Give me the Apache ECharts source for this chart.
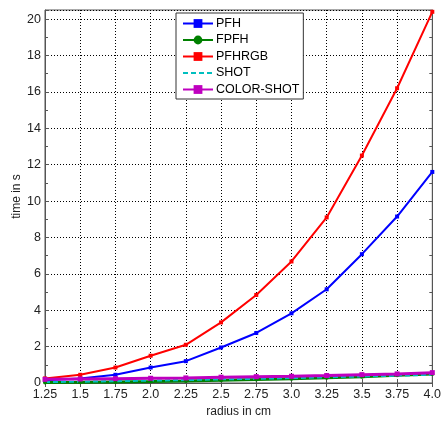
<!DOCTYPE html>
<html>
<head>
<meta charset="utf-8">
<script src="https://cdn.jsdelivr.net/npm/echarts@6/dist/echarts.min.js"></script>
<style>
html, body { margin: 0; padding: 0; background: #fff; }
#container { width: 444px; height: 423px; }
</style>
</head>
<body>
<div id="container"></div>
<script>
var radius = ['1.25', '1.5', '1.75', '2.0', '2.25', '2.5', '2.75', '3.0', '3.25', '3.5', '3.75', '4.0'];
var pfh = [0.15, 0.25, 0.45, 0.85, 1.2, 1.95, 2.75, 3.83, 5.15, 7.08, 9.15, 11.6];
var fpfh = [0.03, 0.04, 0.06, 0.08, 0.11, 0.15, 0.19, 0.24, 0.29, 0.35, 0.42, 0.5];
var pfhrgb = [0.25, 0.45, 0.85, 1.5, 2.1, 3.33, 4.84, 6.68, 9.1, 12.5, 16.2, 20.4];
var shot = [0.05, 0.07, 0.1, 0.13, 0.16, 0.2, 0.23, 0.27, 0.31, 0.36, 0.4, 0.45];
var colorShot = [0.2, 0.22, 0.24, 0.26, 0.28, 0.32, 0.35, 0.37, 0.41, 0.46, 0.5, 0.57];

var myChart = echarts.init(document.getElementById('container'));

var font = 'Liberation Sans, Arial, sans-serif';

function line(name, data, color, symbol, width, type, size) {
    return {
        name: name,
        type: 'line',
        data: data,
        symbol: symbol,
        symbolSize: size,
        showSymbol: true,
        itemStyle: { color: color },
        lineStyle: { color: color, width: width, type: type },
        animation: false
    };
}

option = {
    grid: {
        left: 45, right: 8, top: 10, bottom: 32,
        show: true, borderColor: '#555', borderWidth: 1
    },
    legend: {
        data: ['PFH', 'FPFH', 'PFHRGB', 'SHOT', 'COLOR-SHOT'],
        orient: 'vertical',
        left: 176, top: 13,
        padding: [4, 4, 3, 6],
        itemGap: 3.5,
        itemWidth: 30,
        itemHeight: 11,
        backgroundColor: '#fff',
        borderColor: '#333',
        borderWidth: 1,
        textStyle: { fontFamily: font, fontSize: 12.5, color: '#000', padding: [0, 0, 0, -2] }
    },
    xAxis: [{
        type: 'category',
        data: radius,
        boundaryGap: false,
        name: 'radius in cm',
        nameLocation: 'middle',
        nameGap: 23,
        nameTextStyle: { fontFamily: font, fontSize: 12, color: '#222' },
        axisLine: { lineStyle: { color: '#555' } },
        axisTick: { inside: true, length: 4, lineStyle: { color: '#555' } },
        axisLabel: { fontFamily: font, fontSize: 12.5, color: '#222', margin: 5 },
        splitLine: { show: true, lineStyle: { color: '#000', type: [1, 2], width: 1 } }
    }, {
        type: 'category',
        data: radius,
        boundaryGap: false,
        position: 'top',
        axisLine: { lineStyle: { color: '#555' } },
        axisTick: { inside: true, length: 4, lineStyle: { color: '#555' } },
        axisLabel: { show: false },
        splitLine: { show: false }
    }],
    yAxis: [{
        type: 'value',
        min: 0, max: 20.5, interval: 2,
        name: 'time in s',
        nameLocation: 'middle',
        nameGap: 22,
        nameMoveOverlap: false,
        nameTextStyle: { fontFamily: font, fontSize: 12, color: '#222' },
        axisLine: { show: true, lineStyle: { color: '#555' } },
        axisTick: { show: true, inside: true, length: 4, lineStyle: { color: '#555' } },
        minorTick: { show: true, splitNumber: 2, length: 3, lineStyle: { color: '#555' } },
        axisLabel: {
            fontFamily: font, fontSize: 12.5, color: '#222', margin: 4,
            formatter: function (v) { return v % 2 === 0 ? String(v) : ''; }
        },
        splitLine: { show: true, lineStyle: { color: '#000', type: [1, 2], width: 1 } }
    }, {
        type: 'value',
        min: 0, max: 20.5, interval: 2,
        position: 'right',
        axisLine: { show: true, lineStyle: { color: '#555' } },
        axisTick: { show: true, inside: true, length: 4, lineStyle: { color: '#555' } },
        minorTick: { show: true, splitNumber: 2, length: 3, lineStyle: { color: '#555' } },
        axisLabel: { show: false },
        splitLine: { show: false }
    }],
    series: [
        line('PFH', pfh, '#0000ff', 'rect', 2, 'solid', 4),
        line('FPFH', fpfh, '#008000', 'circle', 3, 'solid', 4),
        line('PFHRGB', pfhrgb, '#ff0000', 'rect', 2, 'solid', 4),
        line('SHOT', shot, '#00bfbf', 'path://M-1,0H1M0,-1V1', 2, [5, 3], 6),
        line('COLOR-SHOT', colorShot, '#bf00bf', 'rect', 3, 'solid', 5)
    ]
};

myChart.setOption(option);
</script>
</body>
</html>
